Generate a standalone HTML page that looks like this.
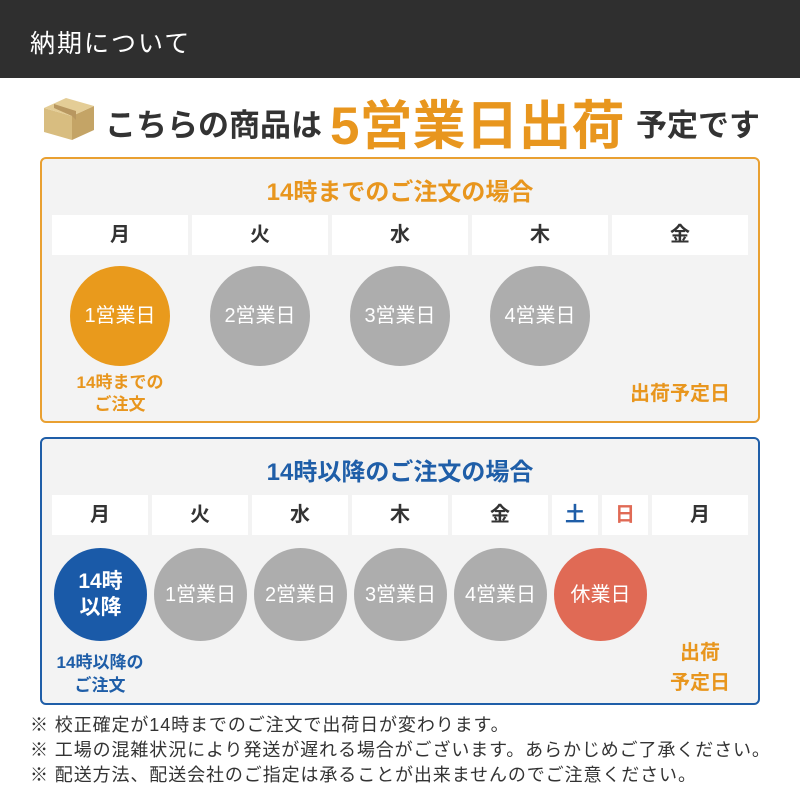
<!DOCTYPE html>
<html><head><meta charset="utf-8"><style>
*{margin:0;padding:0;box-sizing:border-box}
body{width:800px;height:800px;background:#fff;position:relative;overflow:hidden;font-family:"Liberation Sans","Noto Sans CJK JP",sans-serif;color:#333}
.a{position:absolute;white-space:nowrap}
.hdr{position:absolute;left:0;top:0;width:800px;height:78px;background:#2f2f2f}
.box{position:absolute;left:40px;width:720px;background:#f3f3f3;border-radius:6px;border:2px solid}
.cell{position:absolute;background:#fff;height:40px;font-size:20px;font-weight:bold;text-align:center;line-height:40px;color:#333}
.c{position:absolute;border-radius:50%;color:#fff;font-size:20px;display:flex;align-items:center;justify-content:center;text-align:center;line-height:1.2}
.t{position:absolute;text-align:center;font-weight:bold}
.n{position:absolute;left:30px;font-size:18px;letter-spacing:0.9px;color:#333;white-space:nowrap}
</style></head><body>
<div class="hdr"></div>
<div class="a" style="left:30px;top:24px;font-size:25px;color:#fff;letter-spacing:2px">納期について</div>
<svg class="a" style="left:42px;top:94px" width="54" height="48" viewBox="0 0 54 48"><polygon points="2,14 30,22 30,46 2,38" fill="#d8bd80"/><polygon points="30,22 52,12 52,36 30,46" fill="#c4a466"/><polygon points="2,14 24,4 52,12 30,22" fill="#e4cd96"/><polygon points="12,10 34,17 34,26 30,22 12,14" fill="#b89760"/></svg>
<div class="a" style="left:105px;top:100px;font-size:31px;font-weight:bold;color:#333">こちらの商品は</div>
<div class="a" style="left:330px;top:84px;font-size:53px;font-weight:bold;color:#e8961e">5営業日出荷</div>
<div class="a" style="left:636px;top:100px;font-size:31px;font-weight:bold;color:#333">予定です</div>

<div class="box" style="top:157px;height:266px;border-color:#e9a031"></div>
<div class="t" style="left:40px;width:720px;top:172px;font-size:24px;color:#e8961e">14時までのご注文の場合</div>
<div class="cell" style="left:52px;top:215px;width:136px">月</div>
<div class="cell" style="left:192px;top:215px;width:136px">火</div>
<div class="cell" style="left:332px;top:215px;width:136px">水</div>
<div class="cell" style="left:472px;top:215px;width:136px">木</div>
<div class="cell" style="left:612px;top:215px;width:136px">金</div>
<div class="c" style="left:70px;top:266px;width:100px;height:100px;background:#e99a1c">1営業日</div>
<div class="c" style="left:210px;top:266px;width:100px;height:100px;background:#adadad">2営業日</div>
<div class="c" style="left:350px;top:266px;width:100px;height:100px;background:#adadad">3営業日</div>
<div class="c" style="left:490px;top:266px;width:100px;height:100px;background:#adadad">4営業日</div>
<div class="t" style="left:50px;width:140px;top:372px;font-size:17px;line-height:22px;color:#e8961e">14時までの<br>ご注文</div>
<div class="t" style="left:610px;width:140px;top:377px;font-size:20px;color:#e8961e">出荷予定日</div>

<div class="box" style="top:437px;height:268px;border-color:#1f5ea8"></div>
<div class="t" style="left:40px;width:720px;top:452px;font-size:24px;color:#1f5ea8">14時以降のご注文の場合</div>
<div class="cell" style="left:52px;top:495px;width:96px">月</div>
<div class="cell" style="left:152px;top:495px;width:96px">火</div>
<div class="cell" style="left:252px;top:495px;width:96px">水</div>
<div class="cell" style="left:352px;top:495px;width:96px">木</div>
<div class="cell" style="left:452px;top:495px;width:96px">金</div>
<div class="cell" style="left:552px;top:495px;width:46px;color:#1f5ea8">土</div>
<div class="cell" style="left:602px;top:495px;width:46px;color:#e06a55">日</div>
<div class="cell" style="left:652px;top:495px;width:96px">月</div>
<div class="c" style="left:54px;top:548px;width:93px;height:93px;background:#1a5aa8;font-size:21px;font-weight:bold">14時<br>以降</div>
<div class="c" style="left:154px;top:548px;width:93px;height:93px;background:#adadad">1営業日</div>
<div class="c" style="left:254px;top:548px;width:93px;height:93px;background:#adadad">2営業日</div>
<div class="c" style="left:354px;top:548px;width:93px;height:93px;background:#adadad">3営業日</div>
<div class="c" style="left:454px;top:548px;width:93px;height:93px;background:#adadad">4営業日</div>
<div class="c" style="left:554px;top:548px;width:93px;height:93px;background:#e06a55">休業日</div>
<div class="t" style="left:30px;width:140px;top:651px;font-size:17px;line-height:23px;color:#1f5ea8">14時以降の<br>ご注文</div>
<div class="t" style="left:640px;width:120px;top:638px;font-size:20px;line-height:30px;color:#e8961e">出荷<br>予定日</div>

<div class="n" style="top:711px">※ 校正確定が14時までのご注文で出荷日が変わります。</div>
<div class="n" style="top:736px">※ 工場の混雑状況により発送が遅れる場合がございます。あらかじめご了承ください。</div>
<div class="n" style="top:761px">※ 配送方法、配送会社のご指定は承ることが出来ませんのでご注意ください。</div>
</body></html>
